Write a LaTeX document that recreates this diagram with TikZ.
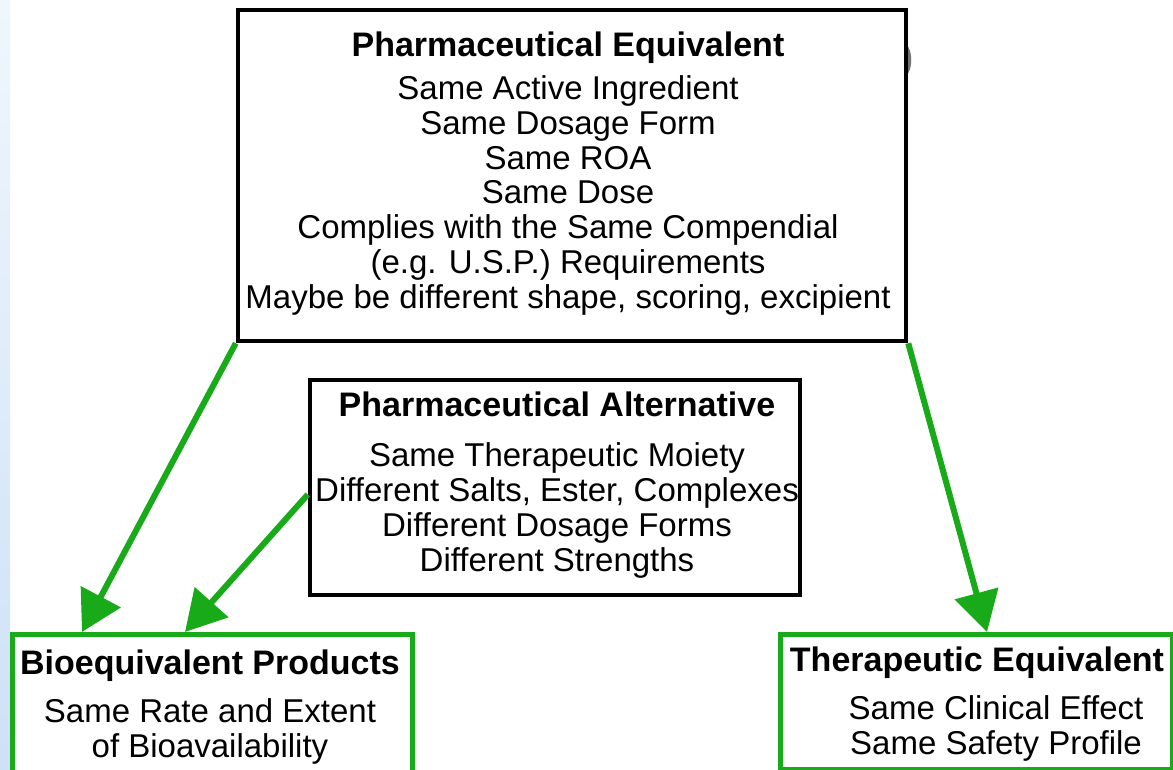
\documentclass[tikz,border=0pt]{standalone}
\usepackage{fontspec}
\setmainfont{Liberation Sans}
\usetikzlibrary{arrows.meta}
\definecolor{arrgreen}{RGB}{24,170,24}
\definecolor{stripTop}{RGB}{240,246,253}
\definecolor{stripBot}{RGB}{205,225,247}
\tikzset{
  blackbox/.style={draw=black, line width=4.5pt, fill=white, inner sep=0pt},
  greenbox/.style={draw=arrgreen, line width=4.5pt, fill=white, inner sep=0pt},
  boxtext/.style={align=center, inner sep=0pt, anchor=base,
    font=\fontsize{33}{34.7}\selectfont},
  arr/.style={draw=arrgreen, line width=6pt,
    -{Triangle[length=40pt,width=44pt]}}
}
\newcommand{\ttlfont}{\fontsize{34}{34.7}\selectfont\bfseries}
\begin{document}
\begin{tikzpicture}[x=1pt,y=-1pt]
\useasboundingbox (0,0) rectangle (1173,770);
\fill[white] (0,0) rectangle (1173,770);
\shade[top color=stripTop, bottom color=stripBot] (0,0) rectangle (10,770);
% small dark artefact right of the top box
\fill[black!55] (906,44) .. controls (913,50) and (913,70) .. (906,76) -- cycle;

% boxes
\node[blackbox, minimum width=668pt, minimum height=331pt] (pe) at (572,175.5) {};
\node[blackbox, minimum width=490pt, minimum height=215pt] (pa) at (555,487.5) {};
\node[greenbox, minimum width=400pt, minimum height=170pt, anchor=north west] (be) at (10,632) {};
\node[greenbox, minimum width=392pt, minimum height=135pt, anchor=north west] (te) at (778,632) {};

% texts (anchor = baseline of the last line)
\node[boxtext] (pet) at (568,308) {{\ttlfont Pharmaceutical Equivalent}\\[8.3pt]
  Same Active Ingredient\\
  Same Dosage Form\\
  Same ROA\\
  Same Dose\\
  Complies with the Same Compendial\\
  (e.g. U.S.P.) Requirements\\
  Maybe be different shape, scoring, excipient};
\node[boxtext] (pat) at (557,571) {{\ttlfont Pharmaceutical Alternative}\\[15.3pt]
  Same Therapeutic Moiety\\
  Different Salts, Ester, Complexes\\
  Different Dosage Forms\\
  Different Strengths};
\node[boxtext] (bet) at (210,757) {{\ttlfont Bioequivalent Products}\\[13.3pt]
  Same Rate and Extent\\
  of Bioavailability};
\node[boxtext] (tet) at (977,754) {{\ttlfont Therapeutic Equivalent}\\[13.3pt]
  \hspace*{38pt}Same Clinical Effect\\
  \hspace*{38pt}Same Safety Profile};

% connectors
\draw[arr] (pe.south west) -- ([xshift=72pt]be.north west);
\draw[arr] ([yshift=-7pt]pa.west) -- ([xshift=175pt]be.north west);
\draw[arr] (pe.south east) -- ([xshift=209pt]te.north west);
\end{tikzpicture}
\end{document}
